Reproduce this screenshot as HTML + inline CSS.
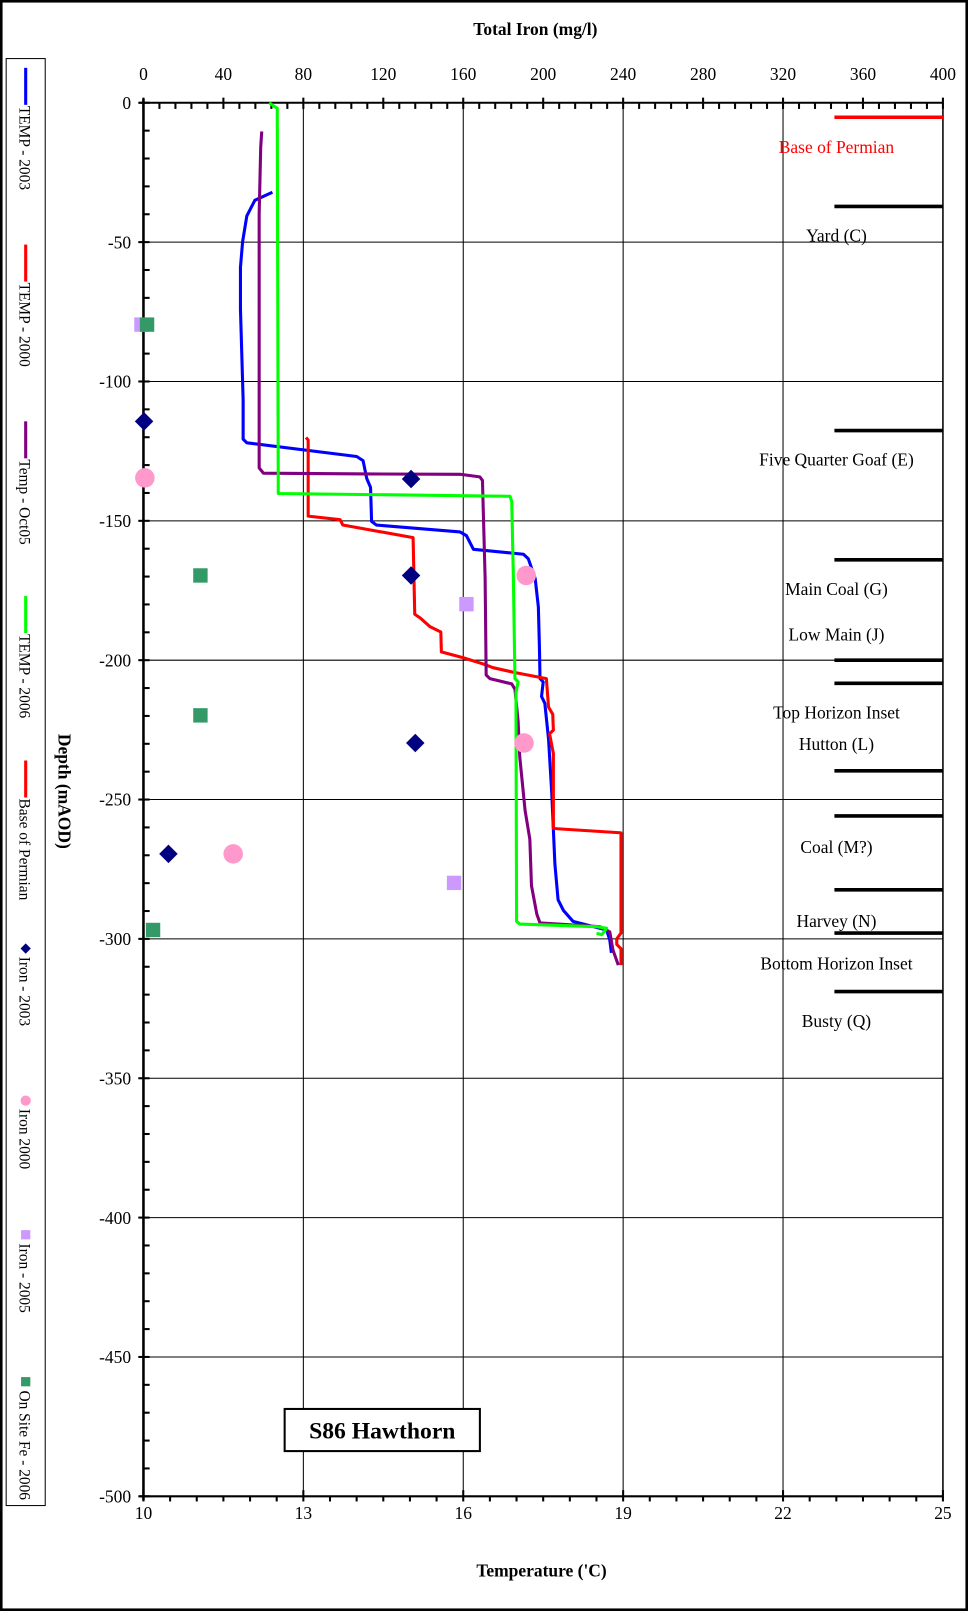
<!DOCTYPE html>
<html><head><meta charset="utf-8"><style>
html,body{margin:0;padding:0;background:#fff;}
svg{display:block;font-family:"Liberation Serif",serif;}
</style></head><body>
<svg id="chart" width="968" height="1611" viewBox="0 0 942 1567.6" preserveAspectRatio="none" xmlns="http://www.w3.org/2000/svg">
<rect x="1" y="1" width="940" height="1565.6" fill="#fff" stroke="#000" stroke-width="3"/>
<g id="grid"></g><g id="axes"></g><g id="formations"></g><g id="series"></g><g id="points"></g>
<text x="521" y="34" text-anchor="middle" font-weight="bold" font-size="17">Total Iron (mg/l)</text>
<text x="527" y="1534" text-anchor="middle" font-weight="bold" font-size="17">Temperature  ('C)</text>
<text transform="translate(57,770) rotate(90)" text-anchor="middle" font-weight="bold" font-size="17">Depth (mAOD)</text>
<g>
<rect x="277" y="1371" width="190" height="41" fill="#fff" stroke="#000" stroke-width="2"/>
<text x="372" y="1400" text-anchor="middle" font-weight="bold" font-size="23">S86 Hawthorn</text>
</g>
<g id="legend">
<rect x="6" y="57" width="38" height="1408" fill="#fff" stroke="#000" stroke-width="1"/>
</g>
</svg>
<script>
const tempTicks=[10,13,16,19,22,25];
const ironTicks=[0,40,80,120,160,200,240,280,320,360,400];
const depthTicks=[0,-50,-100,-150,-200,-250,-300,-350,-400,-450,-500];
const t2003T=[12.42,12.09,11.94,11.86,11.82,11.82,11.87,11.87,11.94,14.00,14.12,14.19,14.26,14.28,14.37,15.94,16.06,16.19,17.13,17.22,17.35,17.41,17.43,17.44,17.50,17.47,17.53,17.60,17.66,17.72,17.78,17.88,18.06,18.69,18.75,18.78];
const t2003D=[-32.1,-35,-40.6,-49.8,-59,-74,-106.6,-120.7,-122.0,-126.9,-128.4,-134.8,-138.0,-150.2,-151.5,-154.0,-155.3,-160.2,-162.0,-163.6,-170.7,-180.9,-196.3,-206.6,-207.8,-213.0,-215.5,-228.3,-247.5,-273.2,-286.0,-289.8,-293.7,-296.8,-300.4,-305];
const t2000T=[13.05,13.09,13.09,13.69,13.74,15.06,15.09,15.19,15.38,15.58,15.59,16.00,16.38,16.56,16.94,17.56,17.60,17.68,17.69,17.62,17.69,17.69,18.94,18.96,18.96,18.88,18.88,18.96,18.96];
const t2000D=[-120.1,-121.0,-148.3,-149.6,-151.5,-156.0,-183.5,-184.8,-188.0,-189.9,-197.0,-199.1,-201.4,-202.7,-204.3,-206.6,-216.8,-219.4,-225.1,-226.4,-233.5,-260.4,-261.9,-262,-297.9,-300,-302,-303.5,-309.4];
const oct05T=[12.22,12.20,12.17,12.17,12.17,12.25,14.19,15.94,16.31,16.36,16.41,16.43,16.50,16.91,16.97,17.03,17.06,17.16,17.25,17.28,17.38,17.44,18.56,18.75,18.81,18.91];
const oct05D=[-10.3,-16,-40,-106.6,-131,-132.9,-133.2,-133.3,-134.2,-135.5,-170.7,-205.3,-206.6,-208.5,-210.4,-221.9,-234.7,-254.0,-264.2,-280.9,-291.1,-294.3,-295.6,-297.5,-304,-309.4];
const t2006T=[12.36,12.44,12.51,12.53,16.88,16.91,16.94,16.97,17.03,16.99,17.0,17.06,18.50,18.69,18.60,18.50];
const t2006D=[0,-1.1,-2,-140.2,-141.2,-143.1,-170.7,-206.6,-207.8,-211.7,-293.7,-294.7,-295.6,-296.2,-298.5,-298];
const iron2003=[0.3,133.9,133.9,136,12.5];
const iron2003D=[-114.3,-135,-169.6,-229.7,-269.5];
const iron2000=[0.7,191.5,190.4,44.9];
const iron2000D=[-134.6,-169.6,-229.7,-269.5];
const iron2005=[-1,161.6,155.4];
const iron2005D=[-79.6,-179.9,-279.9];
const onsite2006=[1.8,28.5,28.5,4.8];
const onsite2006D=[-79.6,-169.6,-219.8,-296.8];
const formationNames=["Yard (C)","Five Quarter Goaf (E)","Main Coal (G)","Low Main (J)","Top Horizon Inset","Hutton (L)","Coal (M?)","Harvey (N)","Bottom Horizon Inset","Busty (Q)"];
const formationLabelD=[-49.7,-130.2,-176.7,-192.9,-220.9,-232.2,-269.2,-295.8,-311,-331.7];
const formationLineD=[-37.2,-117.6,-164,-200,-208.3,-239.7,-255.9,-282.4,-297.9,-318.9];
const permianD=[-5.2];

const NS="http://www.w3.org/2000/svg";
const X0=139.6,X1=917.6,Y0=100,Y1=1456;
function xT(t){return X0+(t-10)/15*(X1-X0);}
function xI(v){return X0+v/400*(X1-X0);}
function yD(d){return Y0+(-d)/500*(Y1-Y0);}
function mk(tag,attrs,parent){const e=document.createElementNS(NS,tag);for(const k in attrs)e.setAttribute(k,attrs[k]);document.getElementById(parent).appendChild(e);return e;}
for(const t of tempTicks){if(t===10)continue;
 const g=mk('line',{x1:xT(t),x2:xT(t),y1:Y0,y2:Y1,stroke:'#000','stroke-width':t===25?1.5:1},'grid');
 
 }
for(const d of depthTicks){if(d===0||d===-500)continue;
 const g=mk('line',{x1:X0,x2:X1,y1:yD(d),y2:yD(d),stroke:'#000','stroke-width':1},'grid');
 
 }
let a=mk('line',{x1:X0,x2:X0,y1:Y0-4,y2:Y1+4,stroke:'#000','stroke-width':2.5},'axes');


a=mk('line',{x1:X0-4,x2:X1,y1:Y0,y2:Y0,stroke:'#000','stroke-width':2},'axes');


a=mk('line',{x1:X0-4,x2:X1,y1:Y1,y2:Y1,stroke:'#000','stroke-width':2},'axes');


for(let d=0;d>=-500;d-=10){const maj=d%50===0;
 mk('line',{x1:maj?X0-5:X0,x2:X0+6,y1:yD(d),y2:yD(d),stroke:'#000','stroke-width':2},'axes');}
for(const d of depthTicks){const t=mk('text',{x:X0-12,y:yD(d)+6,'text-anchor':'end','font-size':17},'axes');t.textContent=d;
 
 }
for(let v=0;v<=400;v+=8){const maj=v%40===0;
 mk('line',{x1:xI(v),x2:xI(v),y1:maj?Y0-5:Y0,y2:Y0+6,stroke:'#000','stroke-width':2},'axes');}
for(const v of ironTicks){const t=mk('text',{x:xI(v),y:Y0-22,'text-anchor':'middle','font-size':17},'axes');t.textContent=v;
 
 }
for(let t=10;t<=25;t+=0.5){const maj=(t-10)%3===0;
 mk('line',{x1:xT(t),x2:xT(t),y1:maj?Y1-6:Y1,y2:Y1+5,stroke:'#000','stroke-width':2},'axes');}
for(const v of tempTicks){const t=mk('text',{x:xT(v),y:Y1+22,'text-anchor':'middle','font-size':17},'axes');t.textContent=v;
 
 }
for(let i=0;i<formationLineD.length;i++){
 const l=mk('line',{x1:812,x2:X1,y1:yD(formationLineD[i]),y2:yD(formationLineD[i]),stroke:'#000','stroke-width':3.5},'formations');
 
 }
for(let i=0;i<formationNames.length;i++){
 const t=mk('text',{x:814,y:yD(formationLabelD[i]),'text-anchor':'middle','font-size':17},'formations');t.textContent=formationNames[i];
 
 }
for(const d of permianD){const l=mk('line',{x1:812,x2:X1,y1:yD(d),y2:yD(d),stroke:'#f00','stroke-width':3.5},'formations');
 
 }
const bp=mk('text',{x:814,y:149,'text-anchor':'middle','font-size':17,fill:'#f00'},'formations');bp.textContent='Base of Permian';


function line(T,D,color){const p=T.map((t,i)=>xT(t).toFixed(1)+','+yD(D[i]).toFixed(1)).join(' ');
 return mk('polyline',{points:p,fill:'none',stroke:color,'stroke-width':3,'stroke-linejoin':'round'},'series');}
let s=line(t2003T,t2003D,'#0000ff');


s=line(t2000T,t2000D,'#ff0000');


s=line(oct05T,oct05D,'#800080');


s=line(t2006T,t2006D,'#00ff00');


function diamond(cx,cy,r,c,parent){return mk('polygon',{points:`${cx},${cy-r} ${cx+r},${cy} ${cx},${cy+r} ${cx-r},${cy}`,fill:c},parent);}
for(let i=0;i<iron2003.length;i++){const p=diamond(xI(iron2003[i]),yD(iron2003D[i]),9,'#000080','points');
 
 }
for(let i=0;i<iron2000.length;i++){const p=mk('circle',{cx:xI(iron2000[i]),cy:yD(iron2000D[i]),r:9.5,fill:'#ff99cc'},'points');
 
 }
for(let i=0;i<iron2005.length;i++){const p=mk('rect',{x:xI(iron2005[i])-7,y:yD(iron2005D[i])-7,width:14,height:14,fill:'#cc99ff'},'points');
 
 }
for(let i=0;i<onsite2006.length;i++){const p=mk('rect',{x:xI(onsite2006[i])-7,y:yD(onsite2006D[i])-7,width:14,height:14,fill:'#339966'},'points');
 
 }
const legLabels=["TEMP - 2003","TEMP - 2000","Temp - Oct05","TEMP - 2006","Base of Permian","Iron - 2003","Iron 2000","Iron - 2005","On Site Fe - 2006"];
const legY=[66,238,410,580,740,918,1066,1197,1340];
const legKind=['line','line','line','line','line','diamond','circle','square','square'];
const legColor=['#0000ff','#ff0000','#800080','#00ff00','#ff0000','#000080','#ff99cc','#cc99ff','#339966'];
for(let i=0;i<legLabels.length;i++){const y=legY[i];let m;
 if(legKind[i]==='line'){m=mk('line',{x1:25,x2:25,y1:y,y2:y+36,stroke:legColor[i],'stroke-width':3},'legend');}
 else if(legKind[i]==='diamond'){m=diamond(25,y+5,5,legColor[i],'legend');}
 else if(legKind[i]==='circle'){m=mk('circle',{cx:25,cy:y+5,r:5,fill:legColor[i]},'legend');}
 else{m=mk('rect',{x:20.5,y:y,width:9,height:9,fill:legColor[i]},'legend');}
 
 
 const ty=legKind[i]==='line'?y+37:y+13;
 const t=mk('text',{transform:`translate(19,${ty}) rotate(90)`,'font-size':15},'legend');t.textContent=legLabels[i];
 
 }
</script>
</body></html>
